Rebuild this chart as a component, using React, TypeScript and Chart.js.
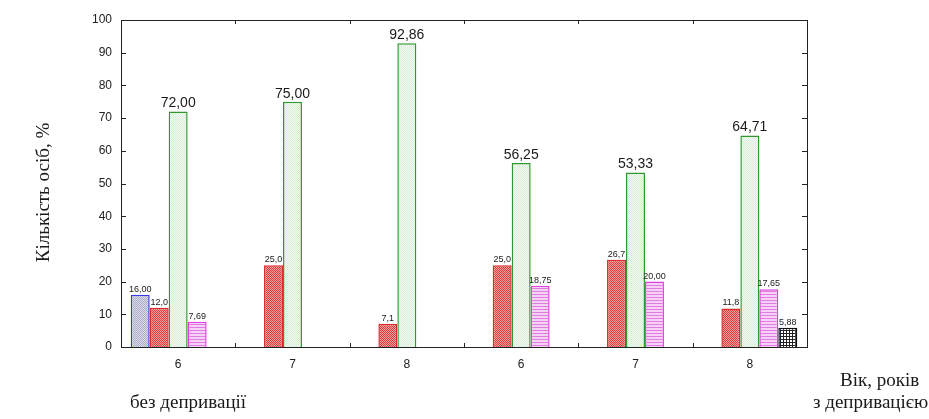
import React, { useEffect, useRef } from "react";
import { Chart, registerables } from "chart.js";

Chart.register(...registerables);

const categories = ["6", "7", "8", "6", "7", "8"];
const seriesBlue = [16.0, null, null, null, null, null];
const seriesRed = [12.0, 25.0, 7.1, 25.0, 26.7, 11.8];
const seriesGreen = [72.0, 75.0, 92.86, 56.25, 53.33, 64.71];
const seriesMagenta = [7.69, null, null, 18.75, 20.0, 17.65];
const seriesBlack = [null, null, null, null, null, 5.88];
const seriesDecimals = [2, 1, 2, 2, 2];
const yMin = 0;
const yMax = 100;
const yStep = 10;
const yTitle = "Кількість осіб, %";
const xTitle = "Вік, років";
const groupLeftLabel = "без депривації";
const groupRightLabel = "з депривацією";

const W = 929;
const H = 419;

function makePattern(size: number, bg: string, draw: (c: CanvasRenderingContext2D) => void) {
  const cv = document.createElement("canvas");
  cv.width = size;
  cv.height = size;
  const c = cv.getContext("2d")!;
  c.fillStyle = bg;
  c.fillRect(0, 0, size, size);
  draw(c);
  return c.createPattern(cv, "repeat")!;
}

export default function App() {
  const ref = useRef<HTMLCanvasElement | null>(null);

  useEffect(() => {
    const canvas = ref.current;
    if (!canvas) return;
    const ctx = canvas.getContext("2d")!;

    const checker = (color: string) => (c: CanvasRenderingContext2D) => {
      c.fillStyle = color;
      c.fillRect(0, 0, 1, 1);
      c.fillRect(1, 1, 1, 1);
    };
    const pBlue = makePattern(2, "#dcdde8", checker("#a9abc8"));
    const pRed = makePattern(2, "#f2a0a0", checker("#dc3c3c"));
    const pGreen = makePattern(2, "#f6fbf6", checker("#d4ecd4"));
    const pMagenta = makePattern(3, "#f6d2f6", (c) => {
      c.fillStyle = "#e47ae4";
      c.fillRect(0, 0, 3, 1);
    });
    const pBlack = makePattern(3, "#ffffff", (c) => {
      c.fillStyle = "#222222";
      c.fillRect(0, 0, 3, 1);
      c.fillRect(0, 0, 1, 3);
    });

    const frame = {
      id: "frame",
      afterDraw(chart: any) {
        const { ctx: c, chartArea: a, scales } = chart;
        c.save();
        c.strokeStyle = "#222";
        c.lineWidth = 1;
        c.strokeRect(Math.round(a.left) + 0.5, Math.round(a.top) + 0.5, Math.round(a.right - a.left), Math.round(a.bottom - a.top));
        const ys = scales.y;
        c.beginPath();
        for (let v = yMin; v <= yMax; v += yStep) {
          const y = Math.round(ys.getPixelForValue(v)) + 0.5;
          c.moveTo(a.left, y);
          c.lineTo(a.left + 5, y);
          c.moveTo(a.right, y);
          c.lineTo(a.right - 5, y);
        }
        const xs = scales.x;
        for (let i = 1; i < categories.length; i++) {
          const x = Math.round((xs.getPixelForValue(i - 1) + xs.getPixelForValue(i)) / 2) + 0.5;
          c.moveTo(x, a.bottom);
          c.lineTo(x, a.bottom - 4);
          c.moveTo(x, a.top);
          c.lineTo(x, a.top + 4);
        }
        c.stroke();

        c.fillStyle = "#1a1a1a";
        c.font = "19px 'Liberation Serif', 'Times New Roman', serif";
        c.textBaseline = "middle";
        c.save();
        c.translate(44, (a.top + a.bottom) / 2 + 9);
        c.rotate(-Math.PI / 2);
        c.textAlign = "center";
        c.fillText(yTitle, 0, 0);
        c.restore();
        c.textAlign = "left";
        c.fillText(xTitle, 840, 381);
        c.fillText(groupLeftLabel, 130, 403);
        c.fillText(groupRightLabel, 813, 403);
        c.restore();
      },
    };

    const labels = {
      id: "valueLabels",
      afterDatasetsDraw(chart: any) {
        const c = chart.ctx;
        c.save();
        c.fillStyle = "#1a1a1a";
        c.textAlign = "center";
        c.textBaseline = "bottom";
        chart.data.datasets.forEach((ds: any, di: number) => {
          const meta = chart.getDatasetMeta(di);
          c.font = di === 2 ? "14px 'Liberation Sans', Arial, sans-serif" : "9px 'Liberation Sans', Arial, sans-serif";
          meta.data.forEach((el: any, i: number) => {
            const v = ds.data[i];
            if (v === null || v === undefined) return;
            const txt = v.toFixed(seriesDecimals[di]).replace(".", ",");
            c.fillText(txt, el.x, el.y - 1);
          });
        });
        c.restore();
      },
    };

    const chart = new Chart(ctx, {
      type: "bar",
      data: {
        labels: categories,
        datasets: [
          { data: seriesBlue, backgroundColor: pBlue, borderColor: "#3a3ae6", borderWidth: 1.5 },
          { data: seriesRed, backgroundColor: pRed, borderColor: "#e02a2a", borderWidth: 1.5 },
          { data: seriesGreen, backgroundColor: pGreen, borderColor: "#2e9a2e", borderWidth: 1.5 },
          { data: seriesMagenta, backgroundColor: pMagenta, borderColor: "#e040e0", borderWidth: 1.5 },
          { data: seriesBlack, backgroundColor: pBlack, borderColor: "#111111", borderWidth: 1.5 },
        ] as any,
      },
      options: {
        responsive: false,
        animation: false,
        devicePixelRatio: 1,
        layout: { padding: { top: 20, right: 122, left: 0, bottom: 0 } },
        datasets: { bar: { categoryPercentage: 0.83, barPercentage: 1 } } as any,
        plugins: { legend: { display: false }, tooltip: { enabled: false } },
        scales: {
          x: {
            grid: { display: false, drawTicks: false },
            border: { display: false },
            ticks: { color: "#222", padding: 10, font: { family: "'Liberation Sans', Arial, sans-serif", size: 12 } },
            afterFit: (s: any) => {
              s.height = 72;
            },
          },
          y: {
            min: yMin,
            max: yMax,
            grid: { display: false, drawTicks: false },
            border: { display: false },
            ticks: { stepSize: yStep, color: "#222", padding: 9, font: { family: "'Liberation Sans', Arial, sans-serif", size: 12 } },
            afterFit: (s: any) => {
              s.width = 121;
            },
          },
        },
      } as any,
      plugins: [frame, labels],
    });
    return () => chart.destroy();
  }, []);

  return (
    <div style={{ position: "fixed", left: 0, top: 0, width: W, height: H, background: "#fff" }}>
      <canvas ref={ref} width={W} height={H} style={{ width: W, height: H, display: "block" }} />
    </div>
  );
}
